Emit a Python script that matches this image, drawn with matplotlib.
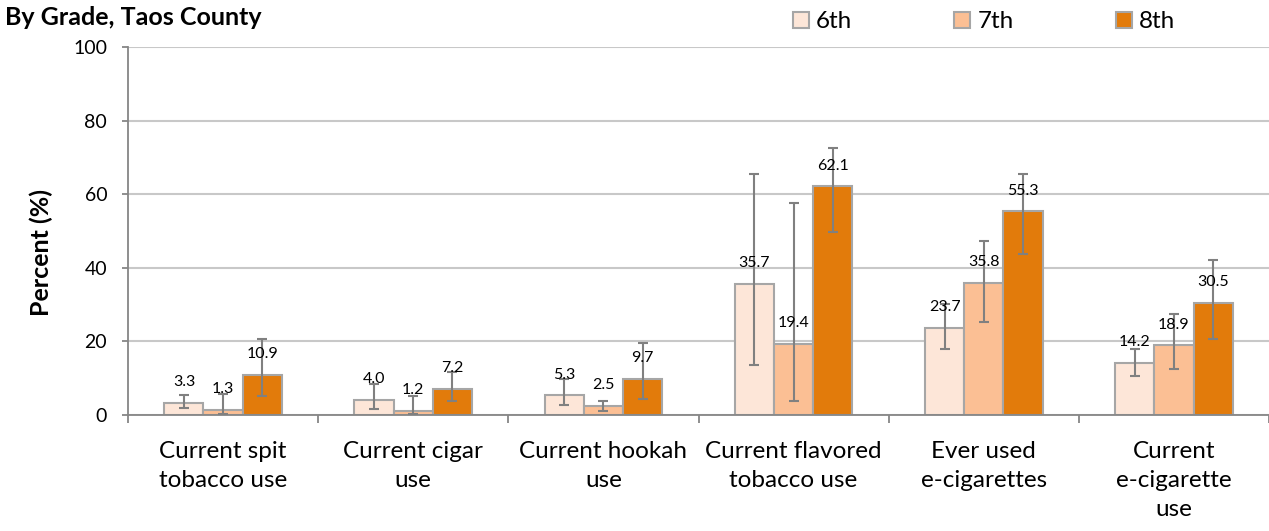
import numpy as np
import matplotlib.pyplot as plt

# categories and grade series (percent)
categories = ['Current spit\ntobacco use', 'Current cigar\nuse', 'Current hookah\nuse',
              'Current flavored\ntobacco use', 'Ever used\ne-cigarettes', 'Current\ne-cigarette\nuse']
grades = ['6th', '7th', '8th']
grade6 = [3.3, 4.0, 5.3, 35.7, 23.7, 14.2]
grade7 = [1.3, 1.2, 2.5, 19.4, 35.8, 18.9]
grade8 = [10.9, 7.2, 9.7, 62.1, 55.3, 30.5]

# confidence interval bounds
low6 = [1.8, 1.7, 2.7, 13.6, 17.9, 10.7]
high6 = [5.3, 8.3, 9.8, 65.5, 30.1, 18.0]
low7 = [0.2, 0.2, 1.2, 3.9, 25.2, 12.4]
high7 = [5.7, 5.1, 3.9, 57.5, 47.2, 27.4]
low8 = [5.2, 3.9, 4.3, 49.6, 43.8, 20.6]
high8 = [20.6, 11.8, 19.5, 72.5, 65.6, 42.0]

colors = ['#FDE6D8', '#FBBF94', '#E27B0B']
plt.rcParams['font.family'] = ['Lato', 'DejaVu Sans']

W, H = 1269, 531
fig = plt.figure(figsize=(W / 100, H / 100), dpi=100)
ax = fig.add_axes([128 / W, 1 - 415 / H, 1 - 128 / W, 368 / H])

x = np.arange(len(categories))
w = 0.206
series = [(grade6, low6, high6), (grade7, low7, high7), (grade8, low8, high8)]
handles = []
for i, (vals, lo, hi) in enumerate(series):
    pos = x + (i - 1) * w
    vals = np.array(vals)
    yerr = [vals - np.array(lo), np.array(hi) - vals]
    b = ax.bar(pos, vals, w, color=colors[i], edgecolor='#A6A6A6', linewidth=1.5,
               label=grades[i], zorder=2)
    handles.append(b)
    ax.errorbar(pos, vals, yerr=yerr, fmt='none', ecolor='#808080', elinewidth=1.5,
                capsize=3.8, capthick=1.5, zorder=3)
    for p, v in zip(pos, vals):
        ax.annotate(f'{v:.1f}', (p, v), xytext=(0, 10), textcoords='offset points',
                    ha='center', va='bottom', fontsize=11.5, color='#000000', zorder=4)

ax.set_xlim(-0.5, len(categories) - 0.5)
ax.set_ylim(0, 100)
ax.set_yticks(range(0, 101, 20))
ax.tick_params(axis='y', labelsize=14, length=4, color='#868686', width=1.3, pad=11)
ax.yaxis.grid(True, color='#C8C8C8', linewidth=1.5, zorder=0)
ax.set_axisbelow(True)

ax.set_xticks(x)
ax.set_xticklabels(categories, fontsize=17.5, linespacing=1.45)
ax.tick_params(axis='x', length=0, pad=19)
ax.set_xticks(np.arange(-0.5, len(categories)), minor=True)
ax.tick_params(axis='x', which='minor', length=6, color='#868686', width=1.3)

for s in ['top', 'right']:
    ax.spines[s].set_visible(False)
for s in ['left', 'bottom']:
    ax.spines[s].set_color('#868686')
    ax.spines[s].set_linewidth(1.3)

fig.text(41 / W, 1 - 253 / H, 'Percent (%)', fontsize=18, fontweight='bold',
         rotation=90, ha='center', va='center')
fig.text(5 / W, 1 - 25 / H, 'By Grade, Taos County', fontsize=18, fontweight='bold',
         va='baseline')
fig.legend(handles=handles, loc='center left', bbox_to_anchor=(793 / W, 1 - 22 / H), ncol=3,
           frameon=False, fontsize=17.5, handlelength=0.65, handleheight=0.65,
           handletextpad=0.3, columnspacing=4.2, borderpad=0, borderaxespad=0)

fig.savefig('out.png', dpi=100)
